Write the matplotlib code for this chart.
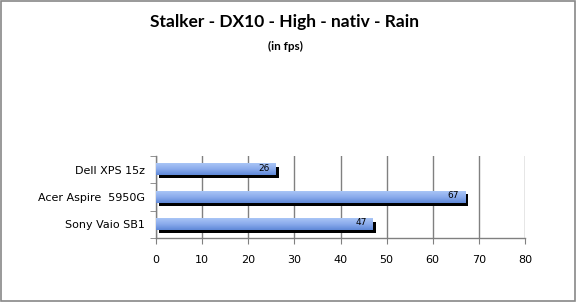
import matplotlib
matplotlib.use("Agg")
import matplotlib.pyplot as plt
import matplotlib.transforms as mtransforms
from matplotlib.patches import Rectangle
from matplotlib.colors import LinearSegmentedColormap
import numpy as np

categories = ["Dell XPS 15z", "Acer Aspire  5950G", "Sony Vaio SB1"]
values = [26, 67, 47]
xticks = [0, 10, 20, 30, 40, 50, 60, 70, 80]
title = "Stalker - DX10 - High - nativ - Rain"
subtitle = "(in fps)"

fig = plt.figure(figsize=(5.77, 3.02), dpi=100)
fig.patch.set_facecolor("white")
fig.add_artist(Rectangle((0.001, 0.002), 0.996, 0.995, transform=fig.transFigure,
                         fill=False, edgecolor="#888888", linewidth=1.2))

ax = fig.add_axes([156/577, 1-238/302, 369/577, 82/302])
n = len(categories)
ypos = np.arange(n)[::-1]
h = 0.42

ax.set_xlim(0, 80)
ax.set_ylim(-0.5, n-0.5)

shadow_tr = mtransforms.offset_copy(ax.transData, fig, x=3, y=-3, units="dots")
grad = np.linspace(0, 1, 64).reshape(-1, 1)
cmap = LinearSegmentedColormap.from_list("bg", ["#a9c5f6", "#8aabec", "#5f89d8"])
for y, v in zip(ypos, values):
    ax.add_patch(Rectangle((0, y-h/2), v, h, facecolor="black", edgecolor="none",
                           transform=shadow_tr, zorder=3))
    ax.imshow(grad, extent=[0, v, y-h/2, y+h/2], aspect="auto", cmap=cmap,
              origin="upper", zorder=4, interpolation="bilinear")
    ax.text(v-1.3, y+0.05, str(v), ha="right", va="center", fontsize=6.5,
            color="black", zorder=5, family="DejaVu Sans")

ax.set_xlim(0, 80)
ax.set_ylim(-0.5, n-0.5)
ax.set_xticks(xticks)
ax.set_xticklabels([str(t) for t in xticks], fontsize=8, color="black")
ax.set_yticks(ypos)
ax.set_yticklabels(categories, fontsize=8)
ax.set_yticks(np.arange(-0.5, n, 1), minor=True)
ax.tick_params(axis="y", which="major", length=0, pad=8)
ax.tick_params(axis="y", which="minor", length=4, color="#808080", direction="out")
ax.tick_params(axis="x", length=4, color="#808080", direction="out", pad=8)
ax.grid(axis="x", color="#808080", linewidth=1)
ax.set_axisbelow(True)
for s in ["top", "right"]:
    ax.spines[s].set_visible(False)
for s in ["left", "bottom"]:
    ax.spines[s].set_color("#808080")
    ax.spines[s].set_linewidth(1)

fig.text(285/577, 1-22/302, title, ha="center", va="center", fontsize=12.5,
         fontweight="bold", family="Lato")
fig.text(285/577, 1-46/302, subtitle, ha="center", va="center", fontsize=8.5,
         fontweight="bold", family="Lato")

fig.savefig("out.png", dpi=100, facecolor="white")
